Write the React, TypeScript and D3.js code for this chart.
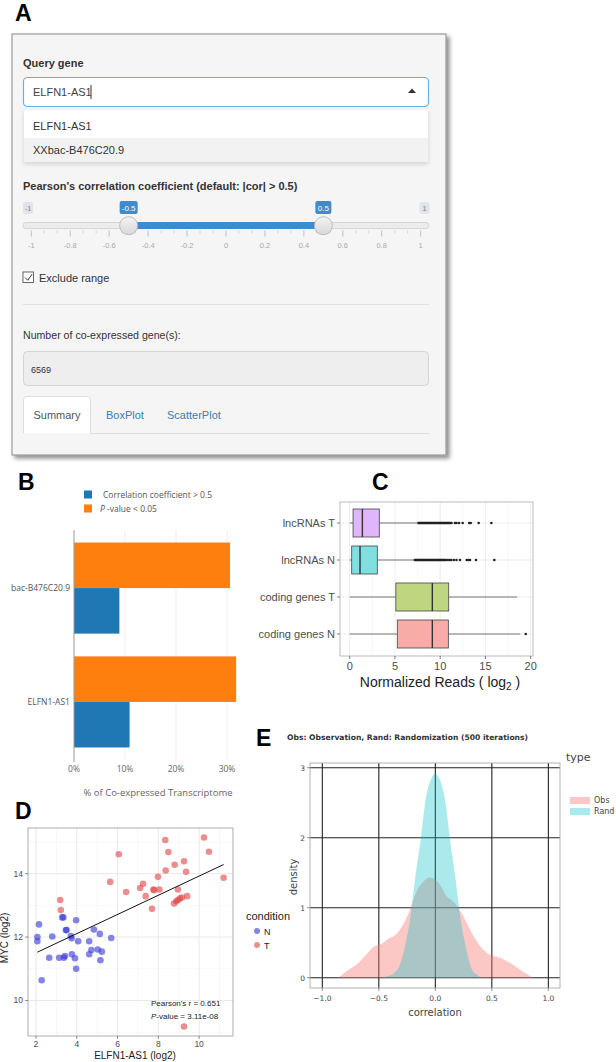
import React from 'react';
import * as d3 from 'd3';

// ---------- Panel A (UI mock) ----------
const geneOptions = ['ELFN1-AS1', 'XXbac-B476C20.9'];
const queryValue = 'ELFN1-AS1';
const sliderTicks = [-1, -0.8, -0.6, -0.4, -0.2, 0, 0.2, 0.4, 0.6, 0.8, 1];
const sliderRange = [-0.5, 0.5];
const sliderBounds = [-1, 1];
const nGenes = '6569';
const tabs = ['Summary', 'BoxPlot', 'ScatterPlot'];

// ---------- Panel B ----------
const bGenes = ['bac-B476C20.9', 'ELFN1-AS1'];
const bCorr = [0.089, 0.109];
const bPval = [0.306, 0.318];
const bTicks = [0, 0.1, 0.2, 0.3];

// ---------- Panel C ----------
const cCats = ['lncRNAs T', 'lncRNAs N', 'coding genes T', 'coding genes N'];
const cLow = [0, 0, 0, 0];
const cQ1 = [0.37, 0.22, 5.1, 5.26];
const cMed = [1.4, 1.14, 9.13, 9.13];
const cQ3 = [3.27, 3.05, 10.94, 10.9];
const cHigh = [7.5, 7.1, 18.5, 18.85];
const cOutLT = [7.6, 7.7, 7.8, 7.9, 8.0, 8.1, 8.2, 8.3, 8.4, 8.5, 8.6, 8.7, 8.8, 8.9, 9.0, 9.1, 9.2, 9.3, 9.4, 9.5, 9.6, 9.7, 9.8, 9.9, 10.0, 10.1, 10.2, 10.3, 10.4, 10.5, 10.6, 10.7, 10.8, 10.9, 11.0, 11.1, 11.25, 11.63, 11.8, 12.08, 12.48, 13.2, 13.37, 14.25, 15.65];
const cOutLN = [7.2, 7.3, 7.4, 7.5, 7.6, 7.7, 7.8, 7.9, 8.0, 8.1, 8.2, 8.3, 8.4, 8.5, 8.6, 8.7, 8.8, 8.9, 9.0, 9.1, 9.2, 9.3, 9.4, 9.5, 9.6, 9.7, 9.8, 9.9, 10.0, 10.1, 10.2, 10.3, 10.4, 10.5, 10.6, 10.8, 11.0, 11.2, 11.5, 11.8, 12.19, 12.93, 13.1, 13.29, 13.96, 15.98];
const cOutCT: number[] = [];
const cOutCN = [19.45];
const cOutliers = [cOutLT, cOutLN, cOutCT, cOutCN];
const cColors = ['#dfb5fc', '#7fdfe1', '#bfd680', '#f9aca7'];
const cTicks = [0, 5, 10, 15, 20];

// ---------- Panel D ----------
const dNx = [2.15, 2.07, 2.07, 2.28, 2.65, 2.8, 3.14, 3.29, 3.34, 3.37, 3.42, 3.47, 3.5, 3.71, 3.75, 3.76, 3.91, 3.97, 3.97, 4.07, 4.61, 4.61, 4.72, 4.84, 5.03, 5.13, 5.16, 5.23, 5.69];
const dNy = [12.4, 12.0, 11.87, 10.64, 11.35, 12.02, 11.35, 12.62, 12.62, 11.35, 11.4, 12.22, 12.22, 12.03, 11.96, 11.46, 11.33, 12.53, 11.0, 11.87, 11.87, 11.46, 11.59, 12.24, 11.61, 12.1, 11.27, 11.54, 11.97];
const dTx = [3.19, 3.22, 5.64, 6.06, 6.42, 7.11, 7.25, 7.38, 7.69, 7.76, 7.79, 7.98, 8.05, 8.34, 8.36, 8.49, 8.77, 8.88, 8.96, 8.8, 8.96, 9.06, 9.16, 9.26, 9.36, 9.41, 9.26, 10.24, 10.48, 11.2];
const dTy = [13.17, 12.85, 13.74, 14.61, 13.42, 13.55, 13.68, 13.29, 12.89, 13.5, 13.48, 13.9, 13.5, 15.06, 14.1, 14.68, 13.06, 13.13, 13.17, 14.28, 13.5, 13.22, 13.25, 14.39, 14.06, 13.29, 9.18, 15.14, 14.69, 13.87];
const dXTicks = [2, 4, 6, 8, 10];
const dYTicks = [10, 12, 14];
const dXMinor = [3, 5, 7, 9, 11];
const dYMinor = [9, 11, 13, 15];
const dStats = ['0.651', '3.11e-08'];

// ---------- Panel E ----------
const obsX = [-0.86, -0.78, -0.69, -0.6, -0.55, -0.48, -0.43, -0.34, -0.25, -0.16, -0.1, -0.05, -0.02, 0.04, 0.1, 0.16, 0.25, 0.34, 0.46, 0.58, 0.69, 0.78, 0.86];
const obsY = [0, 0.1, 0.2, 0.35, 0.44, 0.48, 0.54, 0.63, 0.87, 1.25, 1.38, 1.43, 1.42, 1.33, 1.16, 1.09, 0.87, 0.59, 0.35, 0.28, 0.18, 0.08, 0];
const randX = [-0.5, -0.42, -0.37, -0.31, -0.27, -0.22, -0.18, -0.13, -0.09, -0.04, 0, 0.04, 0.09, 0.13, 0.18, 0.22, 0.27, 0.32, 0.37, 0.43];
const randY = [0, 0.02, 0.06, 0.2, 0.44, 0.87, 1.4, 1.97, 2.5, 2.83, 2.91, 2.83, 2.5, 1.97, 1.4, 0.87, 0.44, 0.13, 0.04, 0];
const eXTicks = [-1, -0.5, 0, 0.5, 1];
const eYTicks = [0, 1, 2, 3];
const eTypes = ['Obs', 'Rand'];
const eColors = ['#F8766D', '#00BFC4'];

const SANS = '"Liberation Sans", Arial, sans-serif';
const OPEN = '"Open Sans", sans-serif';
const DJV = '"DejaVu Sans", sans-serif';

function PanelA() {
  const sx = d3.scaleLinear().domain(sliderBounds).range([31.3, 420.7]);
  const minor: number[] = [];
  for (let i = 0; i < sliderTicks.length - 1; i++) {
    const a = sx(sliderTicks[i]), b = sx(sliderTicks[i + 1]);
    minor.push(a + (b - a) / 3, a + (2 * (b - a)) / 3);
  }
  const h0 = sx(sliderRange[0]), h1 = sx(sliderRange[1]);
  return (
    <g fontFamily={SANS}>
      <text x={15} y={21} fontSize={23} fontWeight="bold">A</text>
      <rect x={12} y={34} width={434} height={421} fill="#f5f5f5" stroke="#8a8a8a" filter="url(#shadowA)" />
      <text x={23} y={67} fontSize={11} fontWeight="bold" fill="#333">Query gene</text>
      <rect x={23.5} y={77.5} width={405} height={29} rx={4} fill="#fff" stroke="#66afe9" strokeWidth={1.2} />
      <text x={33} y={96} fontSize={11} fill="#444">{queryValue}</text>
      <line x1={91} x2={91} y1={85} y2={99} stroke="#333" strokeWidth={1} />
      <path d="M408,93 L416,93 L412,88.5 Z" fill="#333" />
      <rect x={24} y={110} width={404} height={52} fill="#fff" filter="url(#shadowS)" />
      <rect x={24} y={138} width={404} height={24} fill="#f2f2f2" />
      <text x={33} y={130} fontSize={11} fill="#333">{geneOptions[0]}</text>
      <text x={33} y={154} fontSize={11} fill="#333">{geneOptions[1]}</text>
      <text x={23} y={190} fontSize={11} fontWeight="bold" fill="#333">Pearson's correlation coefficient (default: |cor| &gt; 0.5)</text>
      {/* min/max labels */}
      <rect x={23} y={202} width={10} height={12} rx={2} fill="#e1e4e9" />
      <text x={28} y={211} fontSize={8} fill="#888" textAnchor="middle">{sliderBounds[0]}</text>
      <rect x={419.5} y={202} width={10} height={12} rx={2} fill="#e1e4e9" />
      <text x={424.5} y={211} fontSize={8} fill="#888" textAnchor="middle">{sliderBounds[1]}</text>
      {/* value labels */}
      <rect x={h0 - 9} y={201} width={18} height={13} rx={2} fill="#428bca" />
      <text x={h0} y={211} fontSize={8} fill="#fff" textAnchor="middle">{sliderRange[0]}</text>
      <rect x={h1 - 8} y={201} width={16} height={13} rx={2} fill="#428bca" />
      <text x={h1} y={211} fontSize={8} fill="#fff" textAnchor="middle">{sliderRange[1]}</text>
      {/* track */}
      <rect x={23} y={222.5} width={406} height={6} rx={3} fill="#ececec" stroke="#cfcfcf" strokeWidth={0.8} />
      <rect x={h0} y={222} width={h1 - h0} height={7} fill="#428bca" />
      {sliderTicks.map((t) => (
        <g key={t}>
          <line x1={sx(t)} x2={sx(t)} y1={230.5} y2={236.5} stroke="#9fb6d3" strokeWidth={0.8} />
          <text x={sx(t)} y={248} fontSize={7.5} fill="#aaa" textAnchor="middle">{String(t)}</text>
        </g>
      ))}
      {minor.map((m, i) => (
        <line key={i} x1={m} x2={m} y1={230.5} y2={233.5} stroke="#b9c8db" strokeWidth={0.7} />
      ))}
      {[h0, h1].map((h, i) => (
        <circle key={i} cx={h} cy={225.7} r={9} fill="url(#handleGrad)" stroke="#b5b5b5" strokeWidth={0.9} />
      ))}
      {/* checkbox */}
      <rect x={23} y={272} width={10.5} height={10.5} fill="#fff" stroke="#555" strokeWidth={0.9} />
      <path d="M25,277.5 L27.8,280.3 L32,274.2" fill="none" stroke="#333" strokeWidth={1} />
      <text x={39} y={282} fontSize={11} fill="#333">Exclude range</text>
      <line x1={23} x2={429} y1={304.5} y2={304.5} stroke="#e0e0e0" />
      <text x={23} y={339} fontSize={10.6} fill="#333">Number of co-expressed gene(s):</text>
      <rect x={23.5} y={351.5} width={405} height={34} rx={4} fill="#eeeeee" stroke="#d4d4d4" />
      <text x={31} y={373} fontSize={9} fill="#333">{nGenes}</text>
      {/* tabs */}
      <line x1={91} x2={429} y1={433.5} y2={433.5} stroke="#ddd" />
      <path d="M23.5,433.5 L23.5,399.5 Q23.5,396.5 26.5,396.5 L87.5,396.5 Q90.5,396.5 90.5,399.5 L90.5,433.5" fill="#fff" stroke="#ddd" />
      <text x={57} y={419} fontSize={11} fill="#555" textAnchor="middle">{tabs[0]}</text>
      <text x={106} y={419} fontSize={11} fill="#3f7ab4">{tabs[1]}</text>
      <text x={167} y={419} fontSize={11} fill="#3f7ab4">{tabs[2]}</text>
    </g>
  );
}

function PanelB() {
  const x = d3.scaleLinear().domain([0, 0.33]).range([74, 74 + 0.33 * 510]);
  const y = d3.scaleBand().domain(bGenes).range([530, 760]).paddingInner(0.2).paddingOuter(0.11);
  const bw = y.bandwidth();
  return (
    <g fontFamily={OPEN}>
      <text x={18} y={490} fontSize={23} fontWeight="bold" fontFamily={SANS}>B</text>
      <rect x={84} y={490.5} width={8} height={8} fill="#1f77b4" />
      <text x={103} y={498} fontSize={8.5} fill="#555">Correlation coefficient &gt; 0.5</text>
      <rect x={84} y={504.5} width={8} height={8} fill="#ff7f0e" />
      <text x={100} y={512} fontSize={8.5} fill="#555"><tspan fontStyle="italic">P</tspan> -value &lt; 0.05</text>
      {bTicks.slice(1).map((t) => (
        <line key={t} x1={x(t)} x2={x(t)} y1={530} y2={760} stroke="#eeeeee" />
      ))}
      {bGenes.map((g, i) => (
        <g key={g}>
          <rect x={x(0)} y={y(g)!} width={x(bPval[i]) - x(0)} height={bw / 2} fill="#ff7f0e" />
          <rect x={x(0)} y={y(g)! + bw / 2} width={x(bCorr[i]) - x(0)} height={bw / 2} fill="#1f77b4" />
          <text x={70} y={y(g)! + bw / 2 + 3} fontSize={8.5} fill="#555" textAnchor="end">{g}</text>
        </g>
      ))}
      <line x1={74} x2={74} y1={530} y2={762} stroke="#999" />
      {bTicks.map((t) => (
        <text key={t} x={x(t)} y={772} fontSize={8.5} fill="#666" textAnchor="middle">{d3.format('.0%')(t)}</text>
      ))}
      <text x={158} y={796} fontSize={9.5} fill="#666" textAnchor="middle">% of Co-expressed Transcriptome</text>
    </g>
  );
}

function PanelC() {
  const x = d3.scaleLinear().domain([0, 20]).range([349.7, 530.7]);
  const y = d3.scalePoint().domain(cCats).range([523, 634]);
  const bh = 28;
  const minor = [2.5, 7.5, 12.5, 17.5];
  return (
    <g fontFamily={SANS}>
      <text x={372} y={490} fontSize={23} fontWeight="bold">C</text>
      <rect x={340} y={502} width={193} height={154} fill="#fff" />
      {minor.map((m) => (
        <line key={m} x1={x(m)} x2={x(m)} y1={502} y2={656} stroke="#f4f4f4" strokeWidth={0.6} />
      ))}
      {cTicks.map((t) => (
        <line key={t} x1={x(t)} x2={x(t)} y1={502} y2={656} stroke="#ebebeb" strokeWidth={0.9} />
      ))}
      {cCats.map((c) => (
        <line key={c} x1={340} x2={533} y1={y(c)!} y2={y(c)!} stroke="#ebebeb" strokeWidth={0.9} />
      ))}
      {cCats.map((c, i) => {
        const cy = y(c)!;
        return (
          <g key={c}>
            <line x1={x(cLow[i])} x2={x(cQ1[i])} y1={cy} y2={cy} stroke="#444" strokeWidth={0.7} />
            <line x1={x(cQ3[i])} x2={x(cHigh[i])} y1={cy} y2={cy} stroke="#444" strokeWidth={0.7} />
            <rect x={x(cQ1[i])} y={cy - bh / 2} width={x(cQ3[i]) - x(cQ1[i])} height={bh} fill={cColors[i]} stroke="#444" strokeWidth={0.8} />
            <line x1={x(cMed[i])} x2={x(cMed[i])} y1={cy - bh / 2} y2={cy + bh / 2} stroke="#333" strokeWidth={1.4} />
            {cOutliers[i].map((o, j) => (
              <circle key={j} cx={x(o)} cy={cy} r={1.3} fill="#222" />
            ))}
            <line x1={337} x2={340} y1={cy} y2={cy} stroke="#444" strokeWidth={0.7} />
            <text x={335} y={cy + 4} fontSize={11} fill="#4d4d4d" textAnchor="end">{c}</text>
          </g>
        );
      })}
      <rect x={340} y={502} width={193} height={154} fill="none" stroke="#b3b3b3" strokeWidth={0.9} />
      {cTicks.map((t) => (
        <g key={t}>
          <line x1={x(t)} x2={x(t)} y1={656} y2={659} stroke="#444" strokeWidth={0.7} />
          <text x={x(t)} y={669.5} fontSize={11} fill="#4d4d4d" textAnchor="middle">{t}</text>
        </g>
      ))}
      <text x={440} y={687} fontSize={14} fill="#222" textAnchor="middle">Normalized Reads ( log<tspan fontSize={10} dy={3}>2</tspan><tspan dy={-3}> )</tspan></text>
    </g>
  );
}

function PanelD() {
  const x = d3.scaleLinear().domain([1.61, 11.66]).range([28, 233]);
  const y = d3.scaleLinear().domain([8.88, 15.44]).range([1036, 828]);
  const allX = dNx.concat(dTx);
  const allY = dNy.concat(dTy);
  const mx = d3.mean(allX)!, my = d3.mean(allY)!;
  let sxy = 0, sxx = 0;
  allX.forEach((v, i) => { sxy += (v - mx) * (allY[i] - my); sxx += (v - mx) * (v - mx); });
  const slope = sxy / sxx, icpt = my - slope * mx;
  const [x0, x1] = d3.extent(allX) as [number, number];
  return (
    <g fontFamily={SANS}>
      <text x={15} y={819} fontSize={23} fontWeight="bold">D</text>
      <rect x={28} y={828} width={205} height={208} fill="#fff" />
      {dXMinor.map((t) => <line key={'xm' + t} x1={x(t)} x2={x(t)} y1={828} y2={1036} stroke="#f3f3f3" strokeWidth={0.6} />)}
      {dYMinor.map((t) => <line key={'ym' + t} x1={28} x2={233} y1={y(t)} y2={y(t)} stroke="#f3f3f3" strokeWidth={0.6} />)}
      {dXTicks.map((t) => <line key={'x' + t} x1={x(t)} x2={x(t)} y1={828} y2={1036} stroke="#e6e6e6" strokeWidth={0.9} />)}
      {dYTicks.map((t) => <line key={'y' + t} x1={28} x2={233} y1={y(t)} y2={y(t)} stroke="#e6e6e6" strokeWidth={0.9} />)}
      {dNx.map((v, i) => <circle key={'n' + i} cx={x(v)} cy={y(dNy[i])} r={3.3} fill="#3a3ad6" fillOpacity={0.62} />)}
      {dTx.map((v, i) => <circle key={'t' + i} cx={x(v)} cy={y(dTy[i])} r={3.3} fill="#e04848" fillOpacity={0.62} />)}
      <line x1={x(x0)} x2={x(x1)} y1={y(icpt + slope * x0)} y2={y(icpt + slope * x1)} stroke="#111" strokeWidth={1} />
      <rect x={28} y={828} width={205} height={208} fill="none" stroke="#9a9a9a" strokeWidth={0.8} />
      {dXTicks.map((t) => (
        <g key={t}>
          <line x1={x(t)} x2={x(t)} y1={1036} y2={1039} stroke="#444" strokeWidth={0.6} />
          <text x={x(t)} y={1047} fontSize={8.5} fill="#4d4d4d" textAnchor="middle">{t}</text>
        </g>
      ))}
      {dYTicks.map((t) => (
        <g key={t}>
          <line x1={25} x2={28} y1={y(t)} y2={y(t)} stroke="#444" strokeWidth={0.6} />
          <text x={23} y={y(t) + 3} fontSize={8.5} fill="#4d4d4d" textAnchor="end">{t}</text>
        </g>
      ))}
      <text x={135} y={1059} fontSize={10} fill="#222" textAnchor="middle">ELFN1-AS1 (log2)</text>
      <text transform="translate(8,938) rotate(-90)" fontSize={10} fill="#222" textAnchor="middle">MYC (log2)</text>
      <text x={151} y={1006} fontSize={8} fill="#222">Pearson's r =  {dStats[0]}</text>
      <text x={151} y={1019} fontSize={8} fill="#222"><tspan fontStyle="italic">P</tspan>-value =  {dStats[1]}</text>
      <text x={246} y={920} fontSize={11} fill="#222">condition</text>
      <circle cx={257} cy={931} r={3} fill="#3a3ad6" fillOpacity={0.62} />
      <text x={264} y={934.5} fontSize={9} fill="#222">N</text>
      <circle cx={257} cy={945} r={3} fill="#e04848" fillOpacity={0.62} />
      <text x={264} y={948.5} fontSize={9} fill="#222">T</text>
    </g>
  );
}

function PanelE() {
  const x = d3.scaleLinear().domain([-1.109, 1.103]).range([310, 560]);
  const y = d3.scaleLinear().domain([-0.147, 3.067]).range([988, 763]);
  const obsPts: [number, number][] = obsX.map((v, i) => [x(v), y(obsY[i])]);
  const randPts: [number, number][] = randX.map((v, i) => [x(v), y(randY[i])]);
  const areaGen = d3.area<[number, number]>().x((d) => d[0]).y0(y(0)).y1((d) => d[1]).curve(d3.curveMonotoneX);
  return (
    <g fontFamily={DJV}>
      <text x={256} y={746} fontSize={23} fontWeight="bold" fontFamily={SANS}>E</text>
      <text x={287} y={740} fontSize={7.6} fontWeight="bold" fill="#333">Obs: Observation, Rand: Randomization (500 iterations)</text>
      <rect x={310} y={763} width={250} height={225} fill="#fff" />
      {eXTicks.map((t) => <line key={'x' + t} x1={x(t)} x2={x(t)} y1={763} y2={988} stroke="#222" strokeWidth={1.1} />)}
      {eYTicks.map((t) => <line key={'y' + t} x1={310} x2={560} y1={y(t)} y2={y(t)} stroke="#222" strokeWidth={1.1} />)}
      <path d={areaGen(obsPts)!} fill={eColors[0]} fillOpacity={0.4} />
      <path d={areaGen(randPts)!} fill={eColors[1]} fillOpacity={0.33} />
      <rect x={310} y={763} width={250} height={225} fill="none" stroke="#aaa" strokeWidth={0.9} />
      {eXTicks.map((t) => (
        <g key={t}>
          <line x1={x(t)} x2={x(t)} y1={988} y2={991} stroke="#444" strokeWidth={0.6} />
          <text x={x(t)} y={1001} fontSize={7.5} fill="#444" textAnchor="middle">{d3.format('.1f')(t)}</text>
        </g>
      ))}
      {eYTicks.map((t) => (
        <g key={t}>
          <line x1={307} x2={310} y1={y(t)} y2={y(t)} stroke="#444" strokeWidth={0.6} />
          <text x={305} y={y(t) + 3} fontSize={7.5} fill="#444" textAnchor="end">{t}</text>
        </g>
      ))}
      <text x={435} y={1016} fontSize={10} fill="#444" textAnchor="middle">correlation</text>
      <text transform="translate(297,877) rotate(-90)" fontSize={10} fill="#444" textAnchor="middle">density</text>
      <text x={566} y={761} fontSize={11} fill="#444">type</text>
      {eTypes.map((t, i) => (
        <g key={t}>
          <rect x={570} y={797 + i * 11} width={20} height={7} fill={eColors[i]} fillOpacity={i === 0 ? 0.4 : 0.33} />
          <text x={594} y={803 + i * 11} fontSize={8} fill="#444">{t}</text>
        </g>
      ))}
    </g>
  );
}

export default function App() {
  return (
    <svg width={616} height={1062} style={{ position: 'absolute', left: 0, top: 0, background: '#fff' }}>
      <defs>
        <filter id="shadowA" x="-5%" y="-5%" width="115%" height="115%">
          <feDropShadow dx={3} dy={3} stdDeviation={2} floodColor="#000" floodOpacity={0.45} />
        </filter>
        <filter id="shadowS" x="-5%" y="-20%" width="110%" height="150%">
          <feDropShadow dx={0} dy={2} stdDeviation={2} floodColor="#000" floodOpacity={0.15} />
        </filter>
        <linearGradient id="handleGrad" x1="0" y1="0" x2="0" y2="1">
          <stop offset="0" stopColor="#f4f4f4" />
          <stop offset="1" stopColor="#d8d8d8" />
        </linearGradient>
      </defs>
      <rect width={616} height={1062} fill="#fff" />
      <PanelA />
      <PanelB />
      <PanelC />
      <PanelD />
      <PanelE />
    </svg>
  );
}
